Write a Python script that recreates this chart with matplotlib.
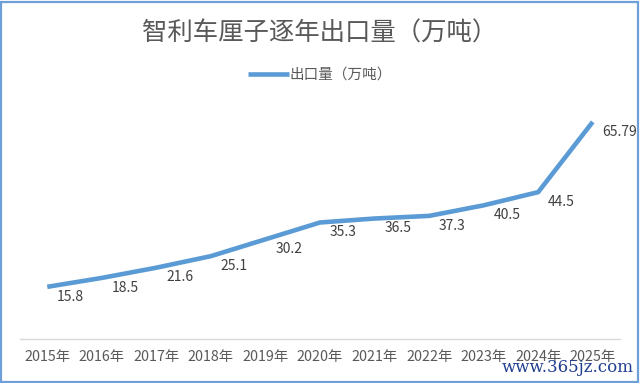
import matplotlib.pyplot as plt
from matplotlib.patches import Rectangle

plt.rcParams['font.family'] = ['Noto Sans CJK SC', 'DejaVu Sans']

years = ['2015年', '2016年', '2017年', '2018年', '2019年', '2020年',
         '2021年', '2022年', '2023年', '2024年', '2025年']
export = [15.8, 18.5, 21.6, 25.1, 30.2, 35.3, 36.5, 37.3, 40.5, 44.5, 65.79]
labels = ['15.8', '18.5', '21.6', '25.1', '30.2', '35.3',
          '36.5', '37.3', '40.5', '44.5', '65.79']

fig = plt.figure(figsize=(6.4, 3.83), dpi=100)
ax = fig.add_axes([0.03125, 0.115, 0.9375, 0.603])

x = list(range(len(years)))
line, = ax.plot(x, export, color='#5b9bd5', lw=3.3, solid_capstyle='butt',
                label='出口量（万吨）')

# data labels, right of each point
for xi, yi, s in zip(x, export, labels):
    ax.annotate(s, (xi, yi), xytext=(7, -7), textcoords='offset points',
                ha='left', va='center', fontsize=10, color='#404040')

ax.set_xlim(-0.5, len(years) - 0.5)
ax.set_ylim(0, 70)
ax.set_xticks(x)
ax.set_xticklabels(years, fontsize=10.3, color='#595959')
ax.tick_params(axis='x', length=0, pad=8)
ax.set_yticks([])
for side in ['top', 'right', 'left']:
    ax.spines[side].set_visible(False)
ax.spines['bottom'].set_color('#d9d9d9')
ax.spines['bottom'].set_linewidth(1.0)

fig.text(0.5, 0.912, '智利车厘子逐年出口量（万吨）', ha='center', va='center',
         fontsize=18.3, color='#595959')

fig.legend(handles=[line], loc='center', bbox_to_anchor=(0.5, 0.805),
           frameon=False, fontsize=10.5, handlelength=2.8, handletextpad=0.1,
           labelcolor='#595959')

# outer border
fig.patches.append(Rectangle((0.002, 0.003), 0.995, 0.993, transform=fig.transFigure,
                             fill=False, ec='#6f9fd8', lw=1.6))

fig.text(0.99, 0.04, 'www.365jz.com', ha='right', va='center',
         fontsize=12, color='#1f3f8f', family='DejaVu Serif')

plt.savefig('out.png', dpi=100)
